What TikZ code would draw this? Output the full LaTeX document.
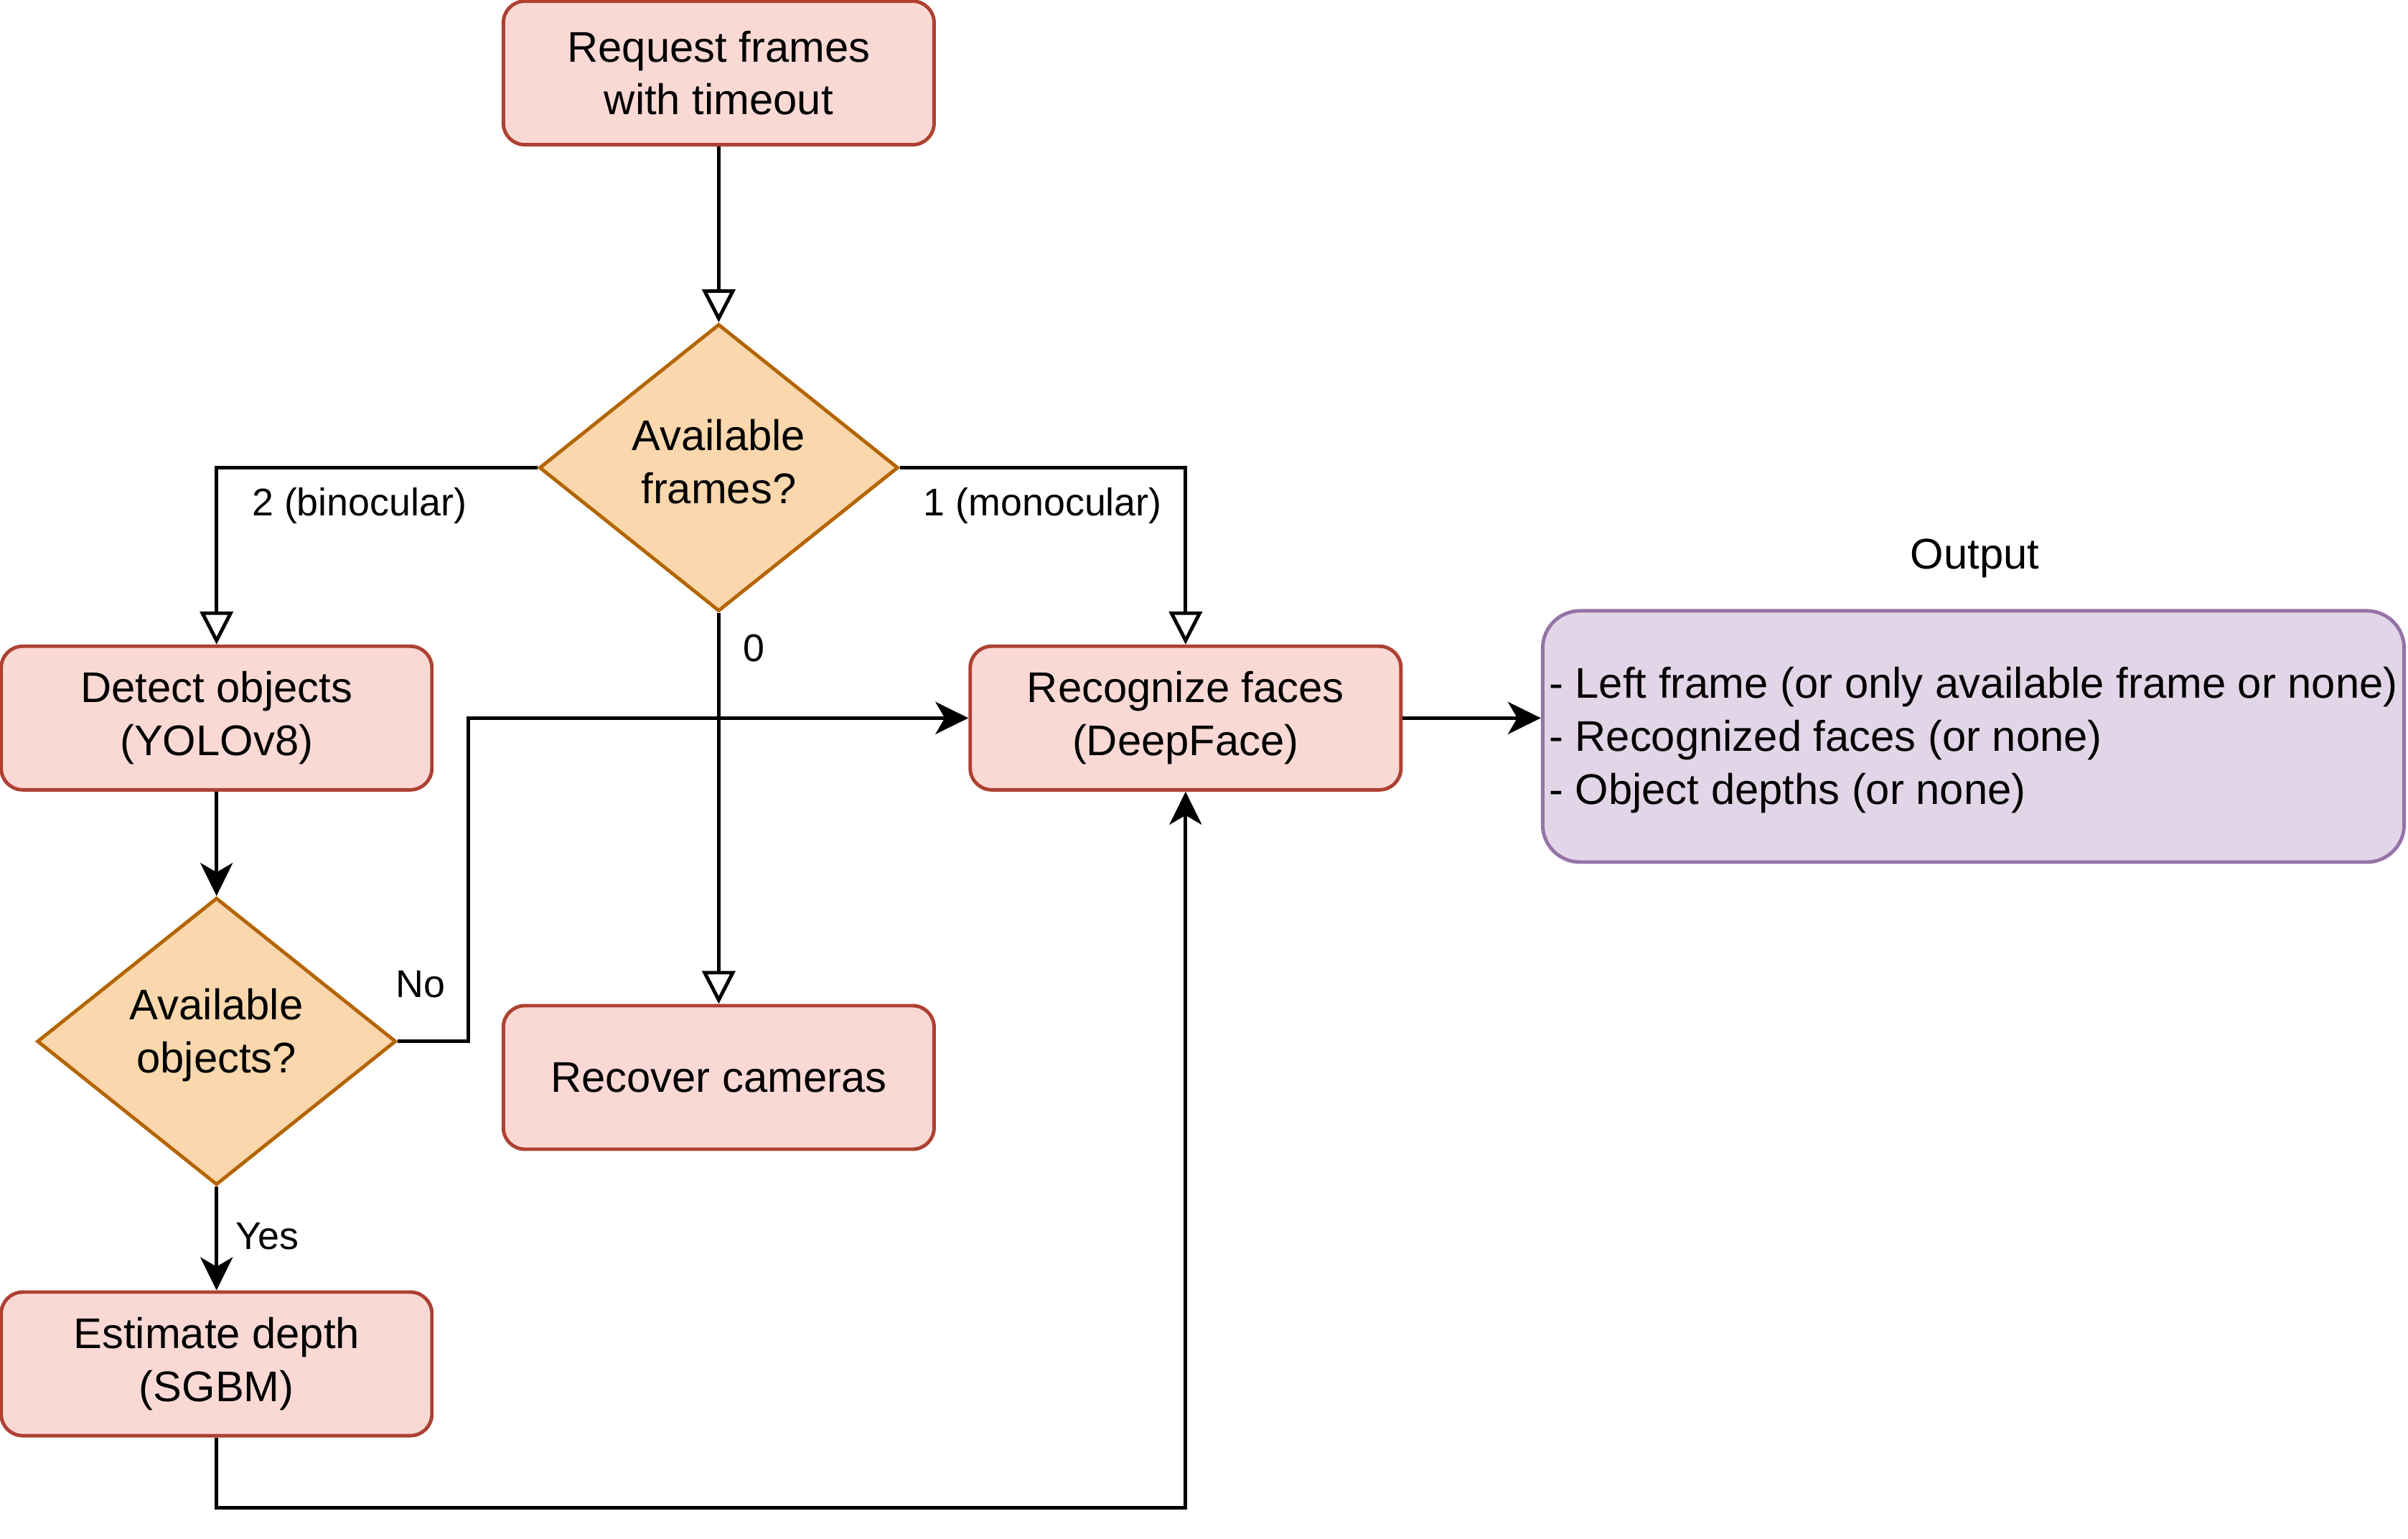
\documentclass[tikz,border=0pt]{standalone}
\usepackage{fontspec}
\setmainfont{Liberation Sans}
\usetikzlibrary{shapes.geometric,arrows.meta}
\definecolor{boxfill}{HTML}{FAD9D5}
\definecolor{boxline}{HTML}{AE4132}
\definecolor{decfill}{HTML}{FAD7AC}
\definecolor{decline}{HTML}{B46504}
\definecolor{outfill}{HTML}{E1D5E7}
\definecolor{outline}{HTML}{9673A6}
\begin{document}
\begin{tikzpicture}[x=0.021397cm, y=-0.021397cm,
  every node/.style={font=\fontsize{17}{21}\selectfont},
  stepbox/.style={draw=boxline, fill=boxfill, line width=1.4pt, rounded corners=0.3cm,
    minimum width=6cm, minimum height=2cm, align=center, inner sep=0pt},
  decision/.style={draw=decline, fill=decfill, line width=1.4pt, diamond, aspect=1.25,
    minimum width=5cm, minimum height=4cm, inner sep=0pt},
  dtext/.style={align=center, inner sep=0pt},
  outbox/.style={draw=outline, fill=outfill, line width=1.4pt, rounded corners=0.52cm,
    minimum width=12cm, minimum height=3.5cm, inner sep=0pt},
  otext/.style={align=left, inner sep=0pt},
  lbl/.style={font=\fontsize{15.3}{18}\selectfont, inner sep=0pt},
  hollow/.style={line width=1.4pt, -{Triangle[open, length=0.46cm, width=0.46cm]}},
  filled/.style={line width=1.4pt, -{Stealth[length=0.46cm, width=0.45cm, inset=0.13cm]}}
]
\useasboundingbox (0,0) rectangle (1568,1002);

% process steps
\node[stepbox] (req) at (468,47.5) {Request frames\\with timeout};
\node[decision] (d1) at (468,304.5) {};
\node[dtext] (d1t) at (468,300.5) {Available\\frames?};
\node[stepbox] (det) at (141,467.5) {Detect objects\\(YOLOv8)};
\node[stepbox] (rec) at (772,467.5) {Recognize faces\\(DeepFace)};
\node[stepbox] (cam) at (468,701.5) {Recover cameras};
\node[decision] (d2) at (141,678) {};
\node[dtext] (d2t) at (141,674) {Available\\objects?};
\node[stepbox] (est) at (141,888) {Estimate depth\\(SGBM)};

% result
\node (outtitle) at (1286,363.5) {Output};
\node[outbox] (out) at (1285,479.5) {};
\node[otext] (outt) at (1285,482) {- Left frame (or only available frame or none)\\- Recognized faces (or none)\\- Object depths (or none)};

% connectors
\draw[hollow] (req.south) -- (d1.north);
\draw[hollow] (d1.west) -| (det.north);
\draw[hollow] (d1.east) -| (rec.north);
\draw[hollow] (d1.south) -- (cam.north);
\draw[filled] (det.south) -- (d2.north);
\draw[filled] (d2.east) -- ++(46,0) |- (rec.west);
\draw[filled] (d2.south) -- (est.north);
\draw[filled] (est.south) -- ++(0,46) -| (rec.south);
\draw[filled] (rec.east) -- (rec.east -| out.west);

% branch labels
\node[lbl] (lbin) at (234,329.5) {2 (binocular)};
\node[lbl] (lmono) at (679,329.5) {1 (monocular)};
\node[lbl] (lzero) at (491,422) {0};
\node[lbl] (lno) at (274,641) {No};
\node[lbl] (lyes) at (174,805) {Yes};
\end{tikzpicture}
\end{document}
